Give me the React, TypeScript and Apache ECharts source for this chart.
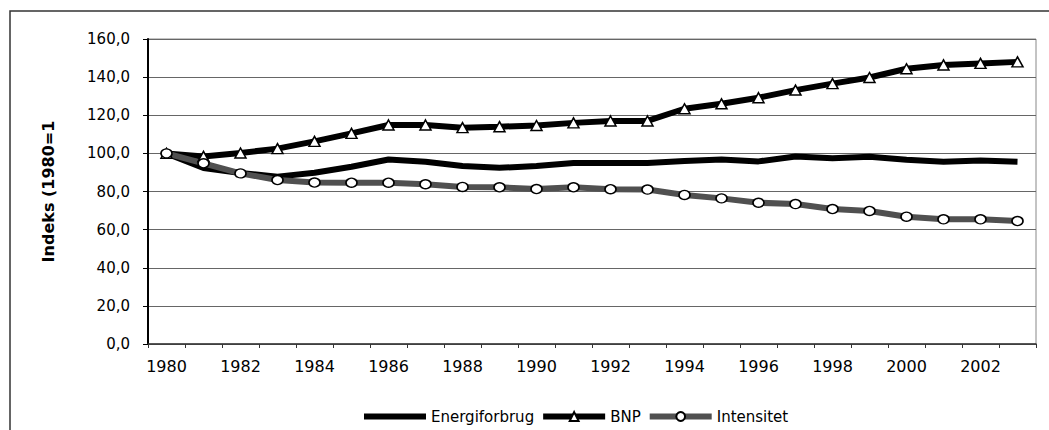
import React, { useEffect, useRef } from "react";
import * as echarts from "echarts";

const years = ["1980","1981","1982","1983","1984","1985","1986","1987","1988","1989","1990","1991","1992","1993","1994","1995","1996","1997","1998","1999","2000","2001","2002","2003"];
const energiforbrug = [100, 92.3, 89.7, 87.8, 89.8, 93, 96.8, 95.6, 93.4, 92.4, 93.4, 94.9, 95, 95, 96, 96.8, 95.8, 98.4, 97.4, 98.2, 96.6, 95.6, 96.2, 95.6];
const bnp = [100, 98.4, 100.2, 102.5, 106.3, 110.5, 114.9, 114.9, 113.5, 114, 114.6, 116, 117, 117, 123.4, 126, 129.2, 133.2, 136.6, 139.8, 144.4, 146.4, 147.2, 148];
const intensitet = [100, 94.8, 89.5, 86, 84.7, 84.6, 84.6, 83.8, 82.4, 82.2, 81.3, 82.2, 81.2, 81, 78.2, 76.4, 74.1, 73.4, 70.8, 69.8, 66.8, 65.4, 65.4, 64.5];
const seriesNames = ["Energiforbrug", "BNP", "Intensitet"];
const yAxisTitle = "Indeks (1980=1";

export default function App() {
  const ref = useRef<HTMLDivElement>(null);
  useEffect(() => {
    if (!ref.current) return;
    const chart = echarts.init(ref.current, null, { renderer: "svg" });
    const font = "'DejaVu Sans', Arial, sans-serif";
    chart.setOption({
      animation: false,
      backgroundColor: "#ffffff",
      textStyle: { fontFamily: font, color: "#000" },
      grid: {
        left: 148, right: 13, top: 39, bottom: 86, containLabel: false,
        show: true, borderColor: "#888", borderWidth: 1,
      },
      graphic: [
        {
          type: "rect",
          shape: { x: 10, y: 11, width: 1100, height: 500 },
          style: { fill: "none", stroke: "#333", lineWidth: 1.5 },
          silent: true,
        },
      ],
      legend: {
        left: 356, top: 404,
        itemWidth: 62, itemHeight: 11, itemGap: 6,
        lineStyle: { width: 6 },
        textStyle: { fontFamily: font, fontSize: 15, color: "#000" },
        data: [
          { name: seriesNames[0], itemStyle: { opacity: 0 } },
          { name: seriesNames[1] },
          { name: seriesNames[2] },
        ],
      },
      xAxis: {
        type: "category",
        data: years,
        boundaryGap: true,
        axisLine: { lineStyle: { color: "#333", width: 1.5 } },
        axisTick: { show: true, interval: 0, length: 4, lineStyle: { color: "#333" } },
        axisLabel: { interval: 1, margin: 14, fontSize: 16, fontFamily: font, color: "#000" },
      },
      yAxis: {
        type: "value",
        min: 0, max: 160, interval: 20,
        name: yAxisTitle,
        nameLocation: "middle",
        nameRotate: 90,
        nameGap: 92,
        nameTextStyle: { fontFamily: font, fontSize: 16, fontWeight: "bold", color: "#000" },
        axisLine: { show: true, lineStyle: { color: "#000", width: 2 } },
        axisTick: { show: true, length: 5, lineStyle: { color: "#000" } },
        axisLabel: {
          margin: 18, fontSize: 15, fontFamily: font, color: "#000",
          formatter: (v: number) => v.toFixed(1).replace(".", ","),
        },
        splitLine: { show: true, lineStyle: { color: "#666", width: 1 } },
      },
      series: [
        {
          name: seriesNames[0], type: "line", data: energiforbrug,
          symbol: "none",
          lineStyle: { color: "#000", width: 6 },
          itemStyle: { color: "#000", borderColor: "#000" },
        },
        {
          name: seriesNames[1], type: "line", data: bnp,
          symbol: "triangle", symbolSize: [11, 10],
          lineStyle: { color: "#000", width: 6 },
          itemStyle: { color: "#fff", borderColor: "#000", borderWidth: 1.5 },
        },
        {
          name: seriesNames[2], type: "line", data: intensitet,
          symbol: "circle", symbolSize: [11, 9],
          lineStyle: { color: "#505050", width: 6 },
          itemStyle: { color: "#fff", borderColor: "#000", borderWidth: 1.5 },
        },
      ],
    });
    return () => chart.dispose();
  }, []);
  return (
    <div style={{ position: "fixed", left: 0, top: 0, width: 1049, height: 430, background: "#fff" }}>
      <div ref={ref} style={{ width: 1049, height: 430 }} />
    </div>
  );
}
